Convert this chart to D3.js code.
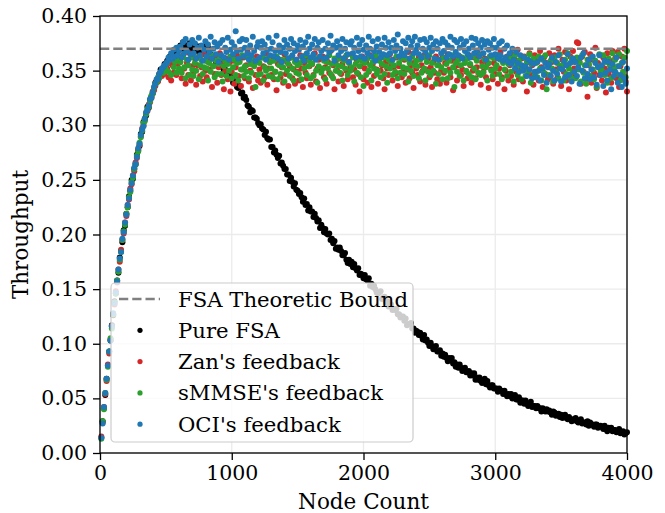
<!DOCTYPE html>
<html><head><meta charset="utf-8">
<script src="https://cdn.jsdelivr.net/npm/d3@7"></script>
<style>
body{margin:0;background:#fff}
svg{display:block}
text{font-family:"DejaVu Serif",serif;fill:#000}
</style>
</head><body>
<svg id="chart" width="665" height="513"></svg>
<script>
// Node counts: the simulation was sampled every 10 nodes, 10..4000
const nodeCounts = d3.range(10, 4001, 10);

const pureFSA = [
.014,.029,.041,.053,.068,.080,.093,.103,.117,.126,
.139,.146,.158,.165,.179,.185,.193,.204,.208,.219,
.225,.235,.240,.250,.251,.260,.264,.273,.277,.281,
.292,.294,.303,.306,.309,.317,.316,.323,.326,.329,
.333,.339,.340,.341,.347,.351,.349,.352,.356,.354,
.359,.358,.363,.363,.363,.366,.364,.370,.369,.371,
.373,.370,.376,.372,.370,.373,.371,.375,.369,.372,
.371,.374,.371,.368,.372,.372,.368,.369,.372,.367,
.369,.371,.364,.365,.361,.362,.363,.357,.360,.358,
.355,.357,.353,.350,.351,.346,.349,.346,.343,.344,
.339,.340,.340,.335,.334,.336,.329,.330,.325,.326,
.323,.318,.317,.312,.314,.313,.307,.307,.306,.302,
.300,.301,.297,.296,.291,.294,.288,.287,.287,.280,
.280,.275,.277,.273,.270,.272,.265,.266,.263,.260,
.260,.255,.255,.249,.252,.248,.244,.247,.241,.240,
.237,.238,.234,.230,.233,.227,.228,.222,.225,.221,
.221,.216,.219,.215,.212,.213,.206,.209,.206,.202,
.205,.201,.200,.201,.195,.196,.192,.194,.187,.188,
.186,.188,.185,.181,.181,.183,.177,.174,.177,.173,
.175,.170,.173,.169,.167,.169,.163,.164,.163,.160,
.163,.159,.158,.160,.153,.155,.152,.153,.150,.147,
.146,.147,.148,.141,.142,.143,.138,.139,.134,.135,
.136,.131,.132,.131,.132,.127,.127,.124,.125,.125,
.121,.123,.117,.118,.118,.119,.114,.114,.110,.112,
.111,.108,.110,.107,.104,.108,.103,.104,.101,.098,
.101,.098,.095,.097,.098,.093,.093,.094,.089,.091,
.088,.090,.087,.084,.087,.085,.087,.082,.083,.079,
.081,.078,.081,.078,.075,.077,.078,.074,.074,.075,
.071,.073,.071,.073,.067,.069,.067,.069,.066,.064,
.067,.068,.063,.066,.062,.060,.062,.062,.059,.059,
.059,.056,.059,.057,.057,.054,.057,.054,.052,.054,
.052,.054,.050,.052,.053,.049,.049,.051,.046,.048,
.048,.045,.048,.045,.043,.045,.047,.042,.043,.043,
.041,.043,.041,.041,.038,.041,.039,.038,.040,.038,
.039,.037,.035,.038,.037,.034,.035,.036,.033,.035,
.032,.034,.035,.032,.031,.033,.031,.029,.031,.030,
.032,.029,.028,.030,.031,.027,.028,.028,.026,.029,
.025,.028,.026,.026,.024,.026,.026,.023,.024,.025,
.024,.022,.025,.022,.020,.023,.022,.023,.020,.021,
.021,.019,.020,.022,.018,.019,.020,.017,.018,.019];

const zanFeedback = [
.015,.028,.042,.054,.066,.081,.091,.104,.116,.127,
.136,.148,.156,.168,.175,.186,.195,.201,.211,.217,
.227,.232,.242,.246,.254,.258,.266,.270,.278,.282,
.290,.297,.300,.305,.311,.313,.319,.321,.325,.331,
.332,.336,.341,.340,.344,.346,.345,.349,.347,.350,
.352,.344,.357,.341,.355,.348,.360,.346,.356,.350,
.358,.343,.364,.352,.338,.357,.346,.366,.341,.354,
.349,.361,.337,.355,.363,.345,.353,.340,.365,.350,
.344,.358,.351,.362,.335,.354,.347,.360,.339,.353,
.366,.346,.356,.333,.350,.361,.342,.357,.331,.349,
.359,.338,.353,.364,.345,.360,.336,.351,.362,.343,
.355,.367,.340,.350,.359,.334,.357,.346,.363,.341,
.351,.339,.362,.354,.344,.366,.337,.352,.358,.346,
.363,.342,.349,.332,.356,.360,.344,.353,.339,.365,
.347,.358,.336,.354,.362,.343,.351,.338,.360,.349,
.341,.364,.352,.335,.357,.348,.343,.361,.354,.337,
.356,.346,.366,.340,.352,.360,.334,.350,.363,.344,
.353,.338,.358,.348,.368,.345,.355,.333,.359,.350,
.340,.361,.347,.356,.336,.362,.350,.342,.358,.353,
.365,.344,.351,.337,.359,.347,.331,.354,.363,.342,
.352,.358,.339,.349,.364,.335,.356,.345,.360,.351,
.338,.361,.350,.355,.343,.333,.358,.352,.346,.365,
.356,.341,.353,.347,.362,.336,.354,.363,.344,.349,
.360,.339,.351,.367,.343,.355,.348,.334,.358,.352,
.346,.362,.340,.355,.350,.364,.337,.351,.361,.344,
.353,.335,.358,.348,.363,.342,.355,.338,.350,.362,
.348,.357,.339,.365,.351,.344,.359,.332,.353,.360,
.341,.355,.363,.346,.351,.336,.360,.349,.343,.364,
.355,.339,.350,.362,.343,.353,.366,.347,.337,.358,
.349,.361,.344,.356,.334,.363,.351,.342,.357,.347,
.362,.338,.352,.367,.344,.358,.333,.350,.363,.341,
.355,.345,.365,.337,.360,.349,.369,.342,.353,.361,
.340,.363,.351,.331,.358,.366,.346,.355,.337,.364,
.349,.360,.341,.368,.353,.335,.362,.347,.357,.342,
.366,.345,.358,.338,.364,.351,.343,.370,.354,.336,
.360,.349,.367,.341,.355,.333,.363,.347,.368,.352,
.344,.376,.375,.358,.338,.363,.349,.367,.342,.326,
.355,.365,.339,.360,.348,.371,.334,.357,.346,.364,
.341,.362,.352,.330,.366,.347,.359,.339,.368,.350,
.361,.343,.367,.335,.354,.363,.346,.370,.340,.331];

const smmseFeedback = [
.013,.029,.040,.055,.067,.079,.093,.105,.114,.127,
.138,.146,.158,.166,.177,.184,.195,.203,.209,.219,
.225,.234,.239,.248,.252,.260,.264,.272,.276,.284,
.289,.295,.302,.304,.310,.315,.317,.322,.327,.329,
.334,.338,.339,.344,.343,.348,.350,.348,.353,.351,
.357,.349,.360,.346,.362,.353,.358,.348,.361,.352,
.358,.348,.363,.353,.343,.360,.355,.346,.362,.351,
.345,.357,.350,.362,.342,.355,.360,.347,.353,.359,
.352,.341,.357,.349,.364,.354,.344,.359,.347,.356,
.361,.347,.340,.354,.359,.345,.356,.350,.363,.343,
.353,.360,.346,.357,.341,.358,.351,.364,.345,.354,
.349,.362,.343,.356,.348,.360,.354,.335,.358,.346,
.357,.347,.362,.341,.353,.350,.361,.345,.358,.352,
.344,.359,.349,.363,.342,.355,.347,.360,.353,.340,
.360,.350,.356,.345,.362,.352,.341,.358,.348,.355,
.347,.357,.342,.361,.352,.364,.346,.354,.359,.343,
.356,.345,.361,.350,.339,.354,.363,.348,.352,.359,
.342,.358,.352,.364,.347,.356,.343,.361,.350,.355,
.361,.348,.354,.341,.359,.352,.364,.346,.357,.350,
.353,.362,.340,.356,.348,.360,.354,.344,.359,.336,
.357,.346,.361,.350,.355,.341,.358,.352,.364,.347,
.350,.359,.344,.356,.362,.347,.354,.339,.360,.352,
.358,.346,.355,.349,.363,.343,.357,.348,.361,.353,
.347,.361,.352,.340,.357,.350,.363,.345,.355,.359,
.354,.343,.360,.348,.362,.352,.341,.358,.349,.364,
.346,.357,.350,.361,.338,.355,.347,.360,.353,.342,
.362,.350,.356,.343,.359,.348,.364,.353,.335,.357,
.349,.360,.345,.355,.362,.341,.357,.350,.361,.347,
.356,.344,.363,.352,.342,.359,.348,.364,.346,.354,
.348,.360,.353,.341,.357,.363,.350,.345,.361,.352,
.355,.364,.347,.360,.342,.357,.351,.362,.345,.356,
.361,.349,.357,.340,.364,.353,.346,.359,.355,.342,
.352,.362,.345,.358,.349,.365,.339,.356,.361,.347,
.357,.344,.363,.352,.341,.360,.348,.364,.333,.355,
.346,.359,.352,.340,.362,.349,.357,.343,.365,.353,
.355,.341,.360,.347,.366,.352,.344,.361,.349,.358,
.343,.362,.351,.357,.340,.364,.348,.355,.338,.360,
.356,.345,.362,.351,.342,.359,.335,.354,.365,.349,
.350,.364,.346,.358,.339,.361,.355,.343,.366,.352,
.360,.347,.354,.365,.341,.357,.349,.362,.344,.368];

const ociFeedback = [
.014,.027,.042,.055,.068,.080,.093,.103,.116,.128,
.137,.147,.157,.168,.178,.184,.196,.202,.211,.218,
.227,.233,.241,.247,.254,.261,.265,.271,.279,.283,
.291,.296,.299,.306,.312,.314,.318,.324,.325,.330,
.335,.338,.342,.342,.347,.349,.352,.353,.355,.356,
.358,.362,.360,.366,.361,.369,.363,.371,.364,.368,
.372,.362,.376,.366,.379,.368,.360,.374,.365,.378,
.366,.375,.361,.371,.380,.364,.373,.359,.369,.377,
.363,.374,.367,.381,.361,.370,.376,.365,.372,.358,
.375,.364,.378,.362,.371,.367,.380,.360,.369,.376,
.365,.372,.386,.368,.361,.377,.369,.379,.363,.371,
.378,.366,.360,.373,.364,.381,.368,.359,.372,.376,
.362,.371,.377,.366,.374,.360,.369,.380,.364,.370,
.376,.363,.368,.382,.361,.373,.367,.358,.371,.378,
.366,.374,.361,.370,.379,.364,.375,.368,.360,.373,
.369,.378,.363,.372,.359,.376,.366,.381,.370,.362,
.374,.365,.379,.360,.371,.376,.363,.368,.378,.361,
.370,.362,.375,.367,.382,.369,.373,.359,.371,.377,
.364,.372,.368,.379,.361,.370,.376,.365,.358,.374,
.377,.366,.371,.362,.380,.368,.374,.363,.378,.369,
.361,.373,.366,.381,.370,.363,.377,.368,.359,.372,
.379,.367,.362,.374,.365,.380,.371,.364,.376,.366,
.371,.360,.378,.368,.373,.383,.363,.370,.366,.377,
.364,.375,.368,.380,.361,.372,.377,.366,.381,.369,
.373,.365,.378,.362,.370,.379,.367,.376,.363,.371,
.380,.368,.374,.361,.377,.370,.360,.375,.366,.379,
.368,.376,.362,.373,.365,.381,.371,.363,.378,.367,
.376,.364,.371,.379,.361,.374,.368,.377,.365,.370,
.362,.380,.373,.366,.379,.368,.375,.363,.371,.378,
.366,.374,.360,.377,.369,.375,.364,.371,.379,.365,
.371,.361,.375,.364,.377,.359,.370,.362,.373,.358,
.366,.356,.370,.360,.352,.367,.357,.349,.364,.355,
.350,.362,.354,.345,.360,.351,.358,.343,.356,.349,
.344,.358,.350,.341,.361,.352,.346,.357,.339,.353,
.356,.345,.362,.350,.341,.358,.347,.364,.352,.340,
.351,.359,.344,.355,.365,.346,.357,.340,.361,.349,
.358,.345,.353,.338,.362,.350,.366,.343,.355,.347,
.360,.342,.351,.363,.344,.357,.337,.353,.364,.346,
.355,.336,.359,.348,.341,.358,.351,.333,.356,.345,
.349,.362,.339,.354,.346,.335,.358,.343,.338,.352];

const boundValue = 0.37;
const boundLabel = "FSA Theoretic Bound";
const seriesNames = ["Pure FSA", "Zan's feedback", "sMMSE's feedback", "OCI's feedback"];
const seriesColors = ["#000000", "#d62728", "#2ca02c", "#1f77b4"];
const xTicks = [0, 1000, 2000, 3000, 4000];
const yTicks = [0, 0.05, 0.10, 0.15, 0.20, 0.25, 0.30, 0.35, 0.40];
const xLabel = "Node Count";
const yLabel = "Throughput";

const seriesData = [pureFSA, zanFeedback, smmseFeedback, ociFeedback];

const W = 665, H = 513;
const m = {left: 100, right: 38, top: 16, bottom: 60};
const svg = d3.select("#chart");
svg.append("rect").attr("width", W).attr("height", H).attr("fill", "#fff");

const x = d3.scaleLinear().domain([0, 4000]).range([m.left, W - m.right]);
const y = d3.scaleLinear().domain([0, 0.4]).range([H - m.bottom, m.top]);

// grid
const grid = svg.append("g");
grid.selectAll("line.gx").data(xTicks).join("line")
  .attr("x1", d => x(d)).attr("x2", d => x(d))
  .attr("y1", y(0)).attr("y2", y(0.4))
  .attr("stroke", "#ebebeb").attr("stroke-width", 1.3);
grid.selectAll("line.gy").data(yTicks).join("line")
  .attr("x1", x(0)).attr("x2", x(4000))
  .attr("y1", d => y(d)).attr("y2", d => y(d))
  .attr("stroke", "#ebebeb").attr("stroke-width", 1.3);

// scatter series
const R = 3;
seriesData.forEach((vals, i) => {
  svg.append("g").selectAll("circle").data(vals).join("circle")
    .attr("cx", (d, j) => x(nodeCounts[j]))
    .attr("cy", d => y(d))
    .attr("r", R)
    .attr("fill", seriesColors[i]);
});

// theoretic bound
svg.append("line")
  .attr("x1", x(0)).attr("x2", x(4000))
  .attr("y1", y(boundValue)).attr("y2", y(boundValue))
  .attr("stroke", "#808080").attr("stroke-width", 2.5)
  .attr("stroke-dasharray", "9.25,4");

// axes
const fs = 20.5;
const xAxis = svg.append("g").attr("transform", `translate(0,${y(0)})`)
  .call(d3.axisBottom(x).tickValues(xTicks).tickFormat(d3.format("d")).tickSize(7).tickPadding(5).tickSizeOuter(0));
const yAxis = svg.append("g").attr("transform", `translate(${x(0)},0)`)
  .call(d3.axisLeft(y).tickValues(yTicks).tickFormat(d3.format(".2f")).tickSize(7).tickPadding(6).tickSizeOuter(0));
[xAxis, yAxis].forEach(a => {
  a.select(".domain").remove();
  a.selectAll(".tick line").attr("stroke", "#000").attr("stroke-width", 1.3);
  a.selectAll(".tick text").attr("font-family", "DejaVu Serif").attr("font-size", fs).attr("fill", "#000");
});

// frame
svg.append("rect")
  .attr("x", x(0)).attr("y", y(0.4))
  .attr("width", x(4000) - x(0)).attr("height", y(0) - y(0.4))
  .attr("fill", "none").attr("stroke", "#000").attr("stroke-width", 1.3);

// axis labels
svg.append("text").attr("x", (x(0) + x(4000)) / 2).attr("y", 509)
  .attr("text-anchor", "middle").attr("font-size", 21.5).text(xLabel);
svg.append("text").attr("transform", `translate(28,${(y(0) + y(0.4)) / 2}) rotate(-90)`)
  .attr("text-anchor", "middle").attr("font-size", 21.5).text(yLabel);

// legend
const lg = svg.append("g");
lg.append("rect").attr("x", 111).attr("y", 283).attr("width", 302).attr("height", 159)
  .attr("rx", 4).attr("fill", "#fff").attr("fill-opacity", 0.8)
  .attr("stroke", "#cccccc").attr("stroke-width", 1.2);
const rowY = d => 299 + d * 31.3;
lg.append("line").attr("x1", 119).attr("x2", 160).attr("y1", rowY(0)).attr("y2", rowY(0))
  .attr("stroke", "#808080").attr("stroke-width", 2.5).attr("stroke-dasharray", "9.25,4");
lg.append("text").attr("x", 178).attr("y", rowY(0) + 7.5).attr("font-size", 21.2).text(boundLabel);
seriesNames.forEach((name, i) => {
  lg.append("circle").attr("cx", 140).attr("cy", rowY(i + 1)).attr("r", 2.6).attr("fill", seriesColors[i]);
  lg.append("text").attr("x", 178).attr("y", rowY(i + 1) + 7.5).attr("font-size", 21.2).text(name);
});
</script>
</body></html>
